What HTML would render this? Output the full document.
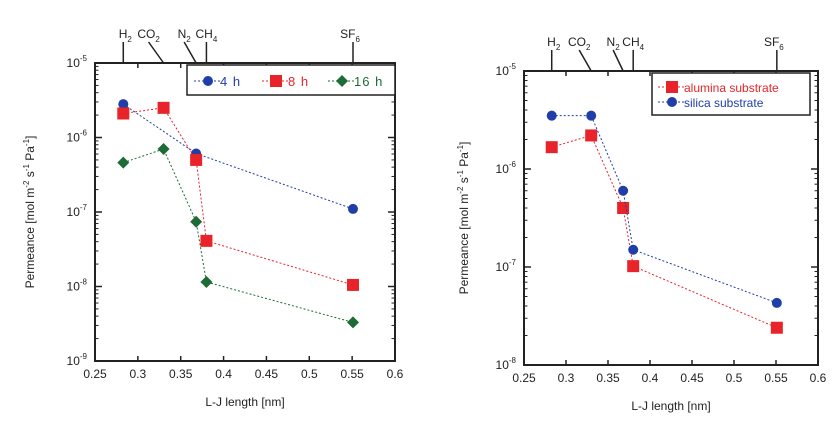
<!DOCTYPE html>
<html><head><meta charset="utf-8"><style>
html,body{margin:0;padding:0;background:#fff;}
svg{display:block;font-family:"Liberation Sans",sans-serif;}
</style></head><body>
<svg id="c" width="840" height="427" viewBox="0 0 840 427"></svg>
<script>
// ---- data ----
const gasNames = ["H2","CO2","N2","CH4","SF6"];
const ljLength = [0.283, 0.33, 0.368, 0.38, 0.551];
const left4h  = [2.8e-6, null, 6.1e-7, null, 1.1e-7];
const left8h  = [2.1e-6, 2.5e-6, 5.0e-7, 4.1e-8, 1.05e-8];
const left16h = [4.6e-7, 7.0e-7, 7.4e-8, 1.15e-8, 3.3e-9];
const rightAlumina = [1.67e-6, 2.2e-6, 4.0e-7, 1.02e-7, 2.4e-8];
const rightSilica  = [3.5e-6, 3.5e-6, 6.0e-7, 1.5e-7, 4.3e-8];
const xTicks = [0.25,0.3,0.35,0.4,0.45,0.5,0.55,0.6];
const xTickLabels = ["0.25","0.3","0.35","0.4","0.45","0.5","0.55","0.6"];

const NS="http://www.w3.org/2000/svg";
const svg=document.getElementById('c');
function el(tag,attrs,parent){const e=document.createElementNS(NS,tag);for(const k in attrs)e.setAttribute(k,attrs[k]);(parent||svg).appendChild(e);return e;}

function panel(P){
  const g=el('g',{});
  
  
  const X=v=>P.x0+(v-0.25)/0.35*(P.x1-P.x0);
  const Y=v=>P.y0+(P.topExp-Math.log10(v))/(P.topExp-P.botExp)*(P.y1-P.y0);
  // frame
  const fr=el('rect',{x:P.x0,y:P.y0,width:P.x1-P.x0,height:P.y1-P.y0,fill:'none',stroke:'#222','stroke-width':2},g);
  
  // x ticks
  xTicks.forEach((t,i)=>{
    el('line',{x1:X(t),x2:X(t),y1:P.y1,y2:P.y1-5,stroke:'#222','stroke-width':1.5},g);
    el('line',{x1:X(t),x2:X(t),y1:P.y0,y2:P.y0+5,stroke:'#222','stroke-width':1.5},g);
    const tx=el('text',{x:X(t),y:P.y1+17,'font-size':12,'text-anchor':'middle',fill:'#222'},g);
    tx.textContent=xTickLabels[i];
    
  });
  // y ticks
  for(let e=P.topExp;e>=P.botExp;e--){
    const y=Y(Math.pow(10,e));
    el('line',{x1:P.x0,x2:P.x0+7,y1:y,y2:y,stroke:'#222','stroke-width':1.5},g);
    el('line',{x1:P.x1,x2:P.x1-7,y1:y,y2:y,stroke:'#222','stroke-width':1.5},g);
    const tx=el('text',{x:P.x0-8,y:y+4,'font-size':12,'text-anchor':'end',fill:'#222'},g);
    tx.innerHTML='10<tspan dy="-6" font-size="8">'+e+'</tspan>';
    
    if(e>P.botExp){for(let m=2;m<10;m++){const ym=Y(m*Math.pow(10,e-1));
      el('line',{x1:P.x0,x2:P.x0+3.5,y1:ym,y2:ym,stroke:'#222','stroke-width':1},g);
      el('line',{x1:P.x1,x2:P.x1-3.5,y1:ym,y2:ym,stroke:'#222','stroke-width':1},g);}}
  }
  // gas labels on top
  const gl=[['H','2'],['CO','2'],['N','2'],['CH','4'],['SF','6']];
  ljLength.forEach((v,i)=>{
    const bx=X(v)+(P.gasOff[i]||0);
    el('line',{x1:bx,y1:P.y0-21,x2:X(v),y2:P.y0,stroke:'#222','stroke-width':1.5},g);
    const tx=el('text',{x:bx+(i===0?2:i===4?-3:0),y:P.y0-25,'font-size':12,'text-anchor':'middle',fill:'#222'},g);
    tx.innerHTML=gl[i][0]+'<tspan dy="4" font-size="8">'+gl[i][1]+'</tspan>';
    
  });
  // axis titles
  const xt=el('text',{x:(P.x0+P.x1)/2,y:P.y1+45,'font-size':12,'text-anchor':'middle',fill:'#222'},g);
  xt.textContent='L-J length [nm]';
  const yc=(P.y0+P.y1)/2;
  const yt=el('text',{x:P.ytx,y:yc,'font-size':12,'text-anchor':'middle',fill:'#222',transform:'rotate(-90 '+P.ytx+' '+yc+')'},g);
  yt.innerHTML='Permeance [mol m<tspan dy="-5" font-size="8">-2</tspan><tspan dy="5"> s</tspan><tspan dy="-5" font-size="8">-1</tspan><tspan dy="5"> Pa</tspan><tspan dy="-5" font-size="8">-1</tspan><tspan dy="5">]</tspan>';
  
  // series
  P.series.forEach(s=>{
    const pts=[];s.vals.forEach((v,i)=>{if(v!=null)pts.push([X(ljLength[i]),Y(v)]);});
    const pl=el('polyline',{points:pts.map(p=>p.join(',')).join(' '),fill:'none',stroke:s.color,'stroke-width':1,'stroke-dasharray':'2,2'},g);
    
    pts.forEach(p=>{const m=marker(s.shape,p[0],p[1],s.color,g);
      });
  });
  // legend
  const L=P.legend;
  const lb=el('rect',{x:L.x,y:L.y,width:L.w,height:L.h,fill:'#fff',stroke:'#222','stroke-width':1.5},g);
  
  L.items.forEach(it=>{
    const s=P.series[it.i];
    el('line',{x1:it.x-14,x2:it.x+14,y1:it.y,y2:it.y,stroke:s.color,'stroke-dasharray':'2,2'},g);
    marker(s.shape,it.x,it.y,s.color,g);
    const t=el('text',{x:it.x+12,y:it.y+5,'font-size':L.fs,fill:s.color,'letter-spacing':L.ls||0},g);
    t.textContent=s.label;
  });
}
function marker(shape,x,y,c,g){
  if(shape==='circle')return el('circle',{cx:x,cy:y,r:5,fill:c},g);
  if(shape==='square')return el('rect',{x:x-6,y:y-6,width:12,height:12,fill:c},g);
  return el('polygon',{points:`${x},${y-6} ${x+6},${y} ${x},${y+6} ${x-6},${y}`,fill:c},g);
}
panel({name:'left-chart',x0:95,x1:395,y0:63,y1:361,topExp:-5,botExp:-9,ytx:34,gasOff:[0,-15,-12,0,0],
  series:[{key:'4h',label:'4 h',vals:left4h,color:'#1f3ea8',shape:'circle'},
          {key:'8h',label:'8 h',vals:left8h,color:'#e8242a',shape:'square'},
          {key:'16h',label:'16 h',vals:left16h,color:'#1d6b35',shape:'diamond'}],
  legend:{x:187,y:65,w:208,h:30,fs:13,ls:1,items:[{i:0,x:208,y:81},{i:1,x:276,y:81},{i:2,x:342,y:81}]}});
panel({name:'right-chart',x0:524,x1:818,y0:71,y1:365,topExp:-5,botExp:-8,ytx:468,gasOff:[0,-12,-10,0,0],
  series:[{key:'alumina',label:'alumina substrate',vals:rightAlumina,color:'#e8242a',shape:'square'},
          {key:'silica',label:'silica substrate',vals:rightSilica,color:'#1f3ea8',shape:'circle'}],
  legend:{x:652,y:73,w:158,h:42,fs:12,items:[{i:0,x:672,y:87},{i:1,x:672,y:102}]}});
</script>
</body></html>
